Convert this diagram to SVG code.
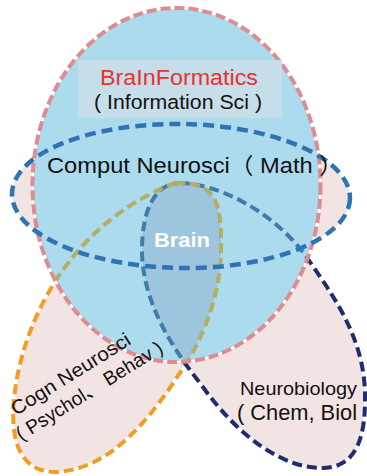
<svg xmlns="http://www.w3.org/2000/svg" width="367" height="476" viewBox="0 0 367 476">
  <defs>
    <style>
      .txt { font-family: "Liberation Sans", "Noto Sans CJK SC", sans-serif; fill: #111; }
      .pink { fill: #f3e4e4; }
      .under { fill: none; stroke: #ffffff; stroke-width: 2; }
      .dash-lobe { fill: none; stroke-width: 4; stroke-dasharray: 10 5; }
      .dash-info { fill: none; stroke: #dc8c92; stroke-width: 4; stroke-dasharray: 10 4; }
      .dash-math { fill: none; stroke: #2e74b5; stroke-width: 4.5; stroke-dasharray: 11 6; }
    </style>
    <!-- shape outlines reused for fills, strokes and clips -->
    <path id="cognShape" d="M175,183 C215,182 222,200 221,250 C221,290 205,335 185,365 C150,420 110,470 55,472 C20,472 10,440 14,400 C20,330 65,225 175,183 Z"/>
    <path id="bioShape" d="M180,183 C215,183 275,210 310,262 C340,305 366,345 365,400 C365,440 355,468 322,468 C285,468 240,440 200,383 C160,333 142,290 142,250 C142,210 155,183 180,183 Z"/>
    <ellipse id="infoShape" cx="176.5" cy="185" rx="144" ry="177"/>
    <ellipse id="mathShape" cx="181" cy="196" rx="169" ry="72" transform="rotate(0.8 181 196)"/>
    <clipPath id="clipInfo"><use href="#infoShape"/></clipPath>
    <clipPath id="clipCogn"><use href="#cognShape"/></clipPath>
  </defs>

  <!-- lobes and the math ellipse underneath -->
  <g id="fills-under">
    <use href="#cognShape" class="pink"/>
    <use href="#bioShape" class="pink"/>
    <use href="#mathShape" class="pink"/>
  </g>

  <g id="connectors">
    <!-- lobe outlines outside the information ellipse -->
    <use href="#cognShape" class="under"/>
    <use href="#bioShape" class="under"/>
    <use href="#cognShape" class="dash-lobe" stroke="#f49b22"/>
    <use href="#bioShape" class="dash-lobe" stroke="#1f2c6e"/>
  </g>

  <g id="info-sci">
    <use href="#infoShape" fill="#acdbee"/>
  </g>

  <!-- overlap of the two lobes -->
  <g id="brain-area" clip-path="url(#clipInfo)">
    <g clip-path="url(#clipCogn)">
      <use href="#bioShape" fill="#9dc5dd"/>
    </g>
  </g>

  <!-- lobe outlines seen through the information ellipse -->
  <g id="lobe-inner" clip-path="url(#clipInfo)">
    <use href="#bioShape" class="dash-lobe" stroke="#3f7cab"/>
    <use href="#cognShape" class="dash-lobe" stroke="#b5ad5f"/>
  </g>

  <g id="info-outline">
    <use href="#infoShape" class="under"/>
    <use href="#infoShape" class="dash-info"/>
  </g>

  <g id="comput-neurosci">
    <use href="#mathShape" class="dash-math"/>
    <text class="txt" x="47" y="173" font-size="22" textLength="296" lengthAdjust="spacingAndGlyphs">Comput Neurosci（ Math ）</text>
  </g>

  <g id="brainformatics">
    <rect x="78" y="60" width="204" height="58" fill="#c6dee9"/>
    <text class="txt">
      <tspan x="100" y="85" font-size="22" style="fill:#e8322f" textLength="158" lengthAdjust="spacingAndGlyphs">BraInFormatics</tspan>
      <tspan x="94" y="109" font-size="20.5" textLength="168" lengthAdjust="spacingAndGlyphs">( Information Sci )</tspan>
    </text>
  </g>

  <g id="brain">
    <text class="txt" x="154" y="247" font-size="20" font-weight="bold" style="fill:#ffffff" textLength="56" lengthAdjust="spacingAndGlyphs">Brain</text>
  </g>

  <g id="cogn-neurosci" transform="translate(16 416) rotate(-32)">
    <text class="txt" font-size="19.5">
      <tspan x="0" y="0" textLength="137" lengthAdjust="spacingAndGlyphs">Cogn Neurosci</tspan>
      <tspan x="-9" y="24" textLength="169" lengthAdjust="spacingAndGlyphs">( Psychol、 Behav )</tspan>
    </text>
  </g>

  <g id="neurobiology">
    <text class="txt">
      <tspan x="240" y="395" font-size="18.5" textLength="117" lengthAdjust="spacingAndGlyphs">Neurobiology</tspan>
      <tspan x="237" y="420" font-size="22.5" textLength="120" lengthAdjust="spacingAndGlyphs">( Chem, Biol</tspan>
    </text>
  </g>
</svg>
